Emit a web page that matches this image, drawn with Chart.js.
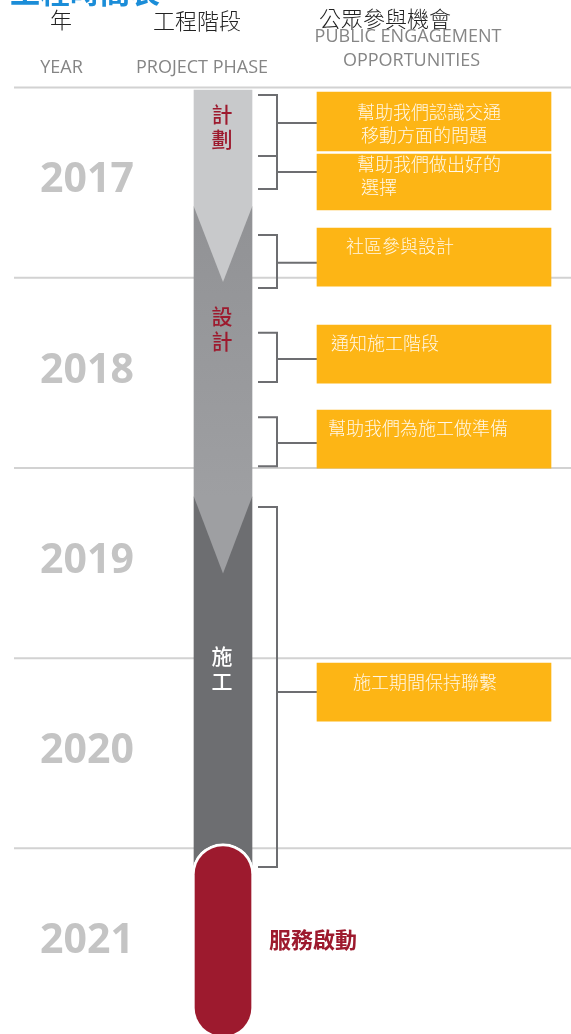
<!DOCTYPE html>
<html lang="zh-Hant">
<head>
  <meta charset="UTF-8">
  <title>工程時間表</title>
  <script src="https://cdn.jsdelivr.net/npm/chart.js"></script>
  <style>
    html, body { margin: 0; padding: 0; background: #fff; }
    canvas { display: block; }
  </style>
</head>
<body>

<canvas id="chart" width="571" height="1034"></canvas>

<script>
// time axis: whole years
const years = [2017, 2018, 2019, 2020, 2021];
const yearLabels = ['2017', '2018', '2019', '2020', '2021'];

// project phases, in fractional years
const phaseNames = ['計劃', '設計', '施工'];
const phaseStart = [2017.013, 2017.628, 2019.153];
const phaseEnd = [2017.628, 2019.153, 2021.1];
const phaseArrowTip = [2018.023, 2019.555, null];
const phaseLabelAt = [2017.139, 2018.201, 2019.989];

const serviceName = '服務啟動';
const serviceStart = 2020.975;
const serviceEnd = 2022.0;
const serviceLabelAt = 2021.48;

// public engagement opportunities
const boxTexts = [
  ['幫助我們認識交通', '移動方面的問題'],
  ['幫助我們做出好的', '選擇'],
  ['社區參與設計'],
  ['通知施工階段'],
  ['幫助我們為施工做準備'],
  ['施工期間保持聯繫']
];
const boxStart = [2017.024, 2017.350, 2017.739, 2018.249, 2018.696, 2020.026];
const boxEnd = [2017.334, 2017.644, 2018.044, 2018.554, 2019.001, 2020.331];

// brackets linking phase spans to opportunities
const bracketTop = [2017.039, 2017.360, 2017.775, 2018.290, 2018.733, 2019.206];
const bracketBottom = [2017.360, 2017.534, 2018.054, 2018.548, 2018.991, 2021.098];
const bracketMid = [2017.187, 2017.444, 2017.922, 2018.427, 2018.869, 2020.178];

// layout (x in page pixels, the y axis is time)
const COL = { lineStart: 14, lineEnd: 571, year: 87, bar: 223, barW: 58, pillW: 62,
  bracketIn: 258, bracketOut: 277, box: 317, boxEnd: 551 };
const boxTextPos = [
  { x: 357, dy: 20 }, { x: 357, dy: 10 }, { x: 346, dy: 18 },
  { x: 331, dy: 18 }, { x: 328, dy: 18 }, { x: 353, dy: 19 }
];
const Y_MIN = 2016.54, Y_MAX = 2021.976;

const phaseColors = ['#c8c9cb', ['#919295', '#9e9fa2'], '#6d6e71'];
const arrowColors = ['#c8c9cb', '#9e9fa2'];
const phaseTextColors = ['#9d1a2e', '#9d1a2e', '#ffffff'];
const RED = '#9d1a2e', ORANGE = '#fdb515', LINE = '#6d6e71';
const CJK = "'Noto Sans CJK TC'";

// year separators
const yearLineData = [];
years.forEach(yr => {
  yearLineData.push({ x: COL.lineStart, y: yr }, { x: COL.lineEnd, y: yr }, { x: COL.lineEnd, y: null });
});

// bracket paths
const bracketData = [];
bracketTop.forEach((t, i) => {
  bracketData.push(
    { x: COL.bracketIn, y: t }, { x: COL.bracketOut, y: t },
    { x: COL.bracketOut, y: bracketBottom[i] }, { x: COL.bracketIn, y: bracketBottom[i] },
    { x: COL.bracketIn, y: null },
    { x: COL.bracketOut, y: bracketMid[i] }, { x: COL.box, y: bracketMid[i] },
    { x: COL.box, y: null }
  );
});

// phase fill, with a soft vertical gradient where two colours are given
function phaseFill(context) {
  const c = phaseColors[context.dataIndex];
  if (!Array.isArray(c)) return c;
  const y = context.chart.scales.y;
  const g = context.chart.ctx.createLinearGradient(0, y.getPixelForValue(phaseStart[context.dataIndex]),
    0, y.getPixelForValue(phaseEnd[context.dataIndex]));
  g.addColorStop(0, c[0]);
  g.addColorStop(1, c[1]);
  return g;
}

const timelinePlugin = {
  id: 'timeline',
  afterDatasetsDraw(chart) {
    const { ctx, scales: { x, y } } = chart;
    const cx = x.getPixelForValue(COL.bar);
    const half = COL.barW / 2;

    // phase arrows
    phaseArrowTip.forEach((tip, i) => {
      if (tip === null) return;
      const top = y.getPixelForValue(phaseEnd[i]);
      ctx.beginPath();
      ctx.moveTo(cx - half, top - 2);
      ctx.lineTo(cx + half, top - 2);
      ctx.lineTo(cx + half, top);
      ctx.lineTo(cx, y.getPixelForValue(tip));
      ctx.lineTo(cx - half, top);
      ctx.closePath();
      ctx.fillStyle = arrowColors[i];
      ctx.fill();
    });

    ctx.save();
    ctx.textAlign = 'center';

    // vertical phase names
    ctx.textBaseline = 'middle';
    ctx.font = `500 21px ${CJK}`;
    phaseNames.forEach((name, i) => {
      ctx.fillStyle = phaseTextColors[i];
      const y0 = y.getPixelForValue(phaseLabelAt[i]);
      [...name].forEach((ch, k) => ctx.fillText(ch, cx - 1, y0 + k * 25));
    });

    // year labels
    ctx.font = "bold 41px 'Open Sans'";
    ctx.fillStyle = '#c4c4c4';
    ctx.textBaseline = 'alphabetic';
    years.forEach((yr, i) => {
      ctx.fillText(yearLabels[i], x.getPixelForValue(COL.year), y.getPixelForValue(yr + 0.475) + 14.6);
    });

    // opportunity texts
    ctx.textAlign = 'left';
    ctx.textBaseline = 'middle';
    ctx.font = `300 18px ${CJK}`;
    ctx.fillStyle = '#fff8e8';
    boxTexts.forEach((lines, i) => {
      const top = y.getPixelForValue(boxStart[i]);
      lines.forEach((line, k) => {
        ctx.fillText(line, boxTextPos[i].x + (k ? 4 : 0), top + boxTextPos[i].dy + k * 23);
      });
    });

    // service start
    ctx.font = `bold 22px ${CJK}`;
    ctx.fillStyle = RED;
    ctx.fillText(serviceName, 269, y.getPixelForValue(serviceLabelAt));

    // headers
    ctx.fillStyle = '#1b8dd8';
    ctx.font = `bold 30px ${CJK}`;
    ctx.textBaseline = 'alphabetic';
    ctx.fillText('工程時間表', 10, 3);

    ctx.textAlign = 'center';
    ctx.textBaseline = 'middle';
    ctx.fillStyle = '#222';
    ctx.font = `300 22px ${CJK}`;
    ctx.fillText('年', 61, 20);
    ctx.fillText('工程階段', 197, 21);
    ctx.fillText('公眾參與機會', 385, 19);

    ctx.fillStyle = '#858585';
    ctx.font = "18px 'Open Sans'";
    ctx.textBaseline = 'alphabetic';
    ctx.fillText('YEAR', 61.5, 66.5 + 6.4);
    ctx.fillText('PROJECT PHASE', 202, 66.5 + 6.4);
    ctx.fillText('PUBLIC ENGAGEMENT', 408, 36 + 6.4);
    ctx.fillText('OPPORTUNITIES', 411.5, 60 + 6.4);
    ctx.restore();
  }
};

new Chart(document.getElementById('chart').getContext('2d'), {
  type: 'bar',
  data: {
    datasets: [
      {
        type: 'line',
        data: yearLineData,
        borderColor: '#d2d2d2',
        borderWidth: 2,
        pointRadius: 0,
        spanGaps: false,
        order: 10
      },
      {
        type: 'line',
        data: bracketData,
        borderColor: LINE,
        borderWidth: 2,
        borderJoinStyle: 'miter',
        borderCapStyle: 'butt',
        pointRadius: 0,
        spanGaps: false,
        order: 6
      },
      {
        data: boxStart.map((s, i) => ({ x: (COL.box + COL.boxEnd) / 2, y: [s, boxEnd[i]] })),
        backgroundColor: ORANGE,
        barThickness: COL.boxEnd - COL.box,
        order: 5
      },
      {
        data: phaseStart.map((s, i) => ({ x: COL.bar, y: [s, phaseEnd[i]] })),
        backgroundColor: phaseFill,
        barThickness: COL.barW,
        order: 4
      },
      {
        data: [{ x: COL.bar, y: [serviceStart, serviceEnd] }],
        backgroundColor: RED,
        borderColor: '#ffffff',
        borderWidth: 3,
        borderSkipped: false,
        borderRadius: COL.pillW / 2,
        barThickness: COL.pillW,
        order: 2
      }
    ]
  },
  options: {
    responsive: false,
    animation: false,
    events: [],
    layout: { padding: 0 },
    plugins: { legend: { display: false }, tooltip: { enabled: false } },
    scales: {
      x: { type: 'linear', min: 0, max: 571, offset: false, stacked: true, display: false },
      y: { type: 'linear', min: Y_MIN, max: Y_MAX, reverse: true, display: false }
    }
  },
  plugins: [timelinePlugin]
});
</script>

</body>
</html>
